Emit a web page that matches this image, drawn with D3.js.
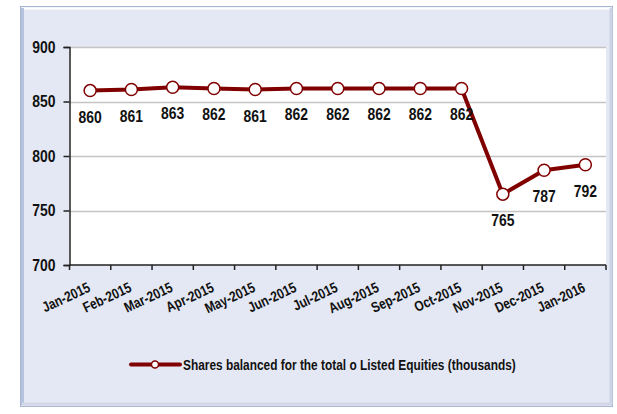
<!DOCTYPE html>
<html>
<head>
<meta charset="utf-8">
<script src="https://cdn.jsdelivr.net/npm/d3@7"></script>
<style>
    html, body { margin: 0; padding: 0; background: #ffffff; }
    svg { display: block; }
    text { font-family: "Liberation Sans", Arial, sans-serif; font-weight: bold; fill: #111; }
</style>
</head>
<body>
<div id="chart"></div>
<script>
// chart data
const months = ["Jan-2015", "Feb-2015", "Mar-2015", "Apr-2015", "May-2015", "Jun-2015", "Jul-2015",
    "Aug-2015", "Sep-2015", "Oct-2015", "Nov-2015", "Dec-2015", "Jan-2016"];
const shares = [860, 861, 863, 862, 861, 862, 862, 862, 862, 862, 765, 787, 792];
const yTicks = [700, 750, 800, 850, 900];
const seriesName = "Shares balanced for the total o Listed Equities (thousands)";

const width = 617, height = 414;
const lineColor = "#800000";
const narrow = 0.82; // fake a narrow face, no Arial Narrow here

const svg = d3.select("#chart").append("svg")
    .attr("width", width)
    .attr("height", height);

// frame with a soft bevel
const frame = svg.append("g").attr("class", "frame");
frame.append("rect")
    .attr("x", 20.5).attr("y", 6.5)
    .attr("width", 592).attr("height", 400)
    .attr("fill", "#e4e8f4")
    .attr("stroke", "#a8b5d5");
frame.append("line").attr("x1", 22).attr("x2", 611).attr("y1", 8.5).attr("y2", 8.5)
    .attr("stroke", "#ffffff").attr("stroke-width", 2);
frame.append("line").attr("x1", 22.5).attr("x2", 22.5).attr("y1", 8).attr("y2", 405)
    .attr("stroke", "#b7c2df").attr("stroke-width", 3);
frame.append("line").attr("x1", 611).attr("x2", 611).attr("y1", 8).attr("y2", 405)
    .attr("stroke", "#cdd3e6").attr("stroke-width", 3);
frame.append("line").attr("x1", 22).attr("x2", 612).attr("y1", 404).attr("y2", 404)
    .attr("stroke", "#d2d7e8").attr("stroke-width", 3);

// plot area
const plot = { left: 69.5, right: 606, top: 47, bottom: 265 };

const x = d3.scaleBand()
    .domain(months)
    .range([plot.left, plot.right]);

const y = d3.scaleLinear()
    .domain([700, 900])
    .range([plot.bottom, plot.top]);

svg.append("rect")
    .attr("x", plot.left).attr("y", plot.top)
    .attr("width", plot.right - plot.left)
    .attr("height", plot.bottom - plot.top)
    .attr("fill", "#ffffff");

// gridlines
svg.append("g")
    .selectAll("line")
    .data(yTicks.filter(d => d > 700))
    .join("line")
    .attr("x1", plot.left).attr("x2", plot.right)
    .attr("y1", d => Math.round(y(d)) + 0.5)
    .attr("y2", d => Math.round(y(d)) + 0.5)
    .attr("stroke", "#c4c4c4")
    .attr("stroke-width", 1.5);

// y axis
const yAxis = svg.append("g")
    .attr("transform", `translate(${plot.left},0)`)
    .call(d3.axisLeft(y).tickValues(yTicks).tickSize(6).tickPadding(8));
yAxis.select(".domain").attr("stroke", "#222").attr("stroke-width", 1.5);
yAxis.selectAll(".tick line").attr("stroke", "#222").attr("stroke-width", 1.5);
yAxis.selectAll(".tick text")
    .attr("font-size", 17)
    .attr("fill", "#111")
    .attr("transform", function () {
        const tx = +d3.select(this).attr("x");
        return `translate(${tx},0) scale(${narrow},1)`;
    })
    .attr("x", 0);

// x axis, ticks on band edges
const xAxis = svg.append("g").attr("transform", `translate(0,${plot.bottom})`);
xAxis.append("line")
    .attr("x1", plot.left).attr("x2", plot.right)
    .attr("stroke", "#222").attr("stroke-width", 1.5);
const edges = months.map(m => x(m)).concat([plot.right]);
xAxis.selectAll(".edge")
    .data(edges)
    .join("line")
    .attr("class", "edge")
    .attr("x1", d => d).attr("x2", d => d)
    .attr("y1", 0).attr("y2", 5)
    .attr("stroke", "#222").attr("stroke-width", 1.5);
xAxis.selectAll(".mlabel")
    .data(months)
    .join("text")
    .attr("class", "mlabel")
    .attr("font-size", 14.5)
    .attr("text-anchor", "end")
    .attr("transform", d => `translate(${x(d) + x.bandwidth() / 2 + 1},26) rotate(-25) scale(${narrow},1)`)
    .text(d => d);

// series line
const cx = (d, i) => x(months[i]) + x.bandwidth() / 2;
const line = d3.line().x(cx).y(d => y(d));

svg.append("path")
    .datum(shares)
    .attr("d", line)
    .attr("fill", "none")
    .attr("stroke", lineColor)
    .attr("stroke-width", 4)
    .attr("stroke-linejoin", "round");

svg.append("g")
    .selectAll("circle")
    .data(shares)
    .join("circle")
    .attr("cx", cx)
    .attr("cy", d => y(d))
    .attr("r", 6)
    .attr("fill", "#ffffff")
    .attr("stroke", lineColor)
    .attr("stroke-width", 1.5);

// data labels below the points
svg.append("g")
    .selectAll("text")
    .data(shares)
    .join("text")
    .attr("transform", (d, i) => `translate(${cx(d, i)},${y(d) + 32}) scale(${narrow},1)`)
    .attr("text-anchor", "middle")
    .attr("font-size", 17)
    .text(d => d);

// legend
const legend = svg.append("g").attr("transform", "translate(131,364.5)");
legend.append("line")
    .attr("x1", 0).attr("x2", 49)
    .attr("stroke", lineColor).attr("stroke-width", 4).attr("stroke-linecap", "round");
legend.append("circle")
    .attr("cx", 24).attr("r", 3.5)
    .attr("fill", "#ffffff").attr("stroke", lineColor).attr("stroke-width", 1.5);
legend.append("text")
    .attr("transform", `translate(52,5) scale(${narrow},1)`)
    .attr("font-size", 14.5)
    .text(seriesName);
</script>
</body>
</html>
